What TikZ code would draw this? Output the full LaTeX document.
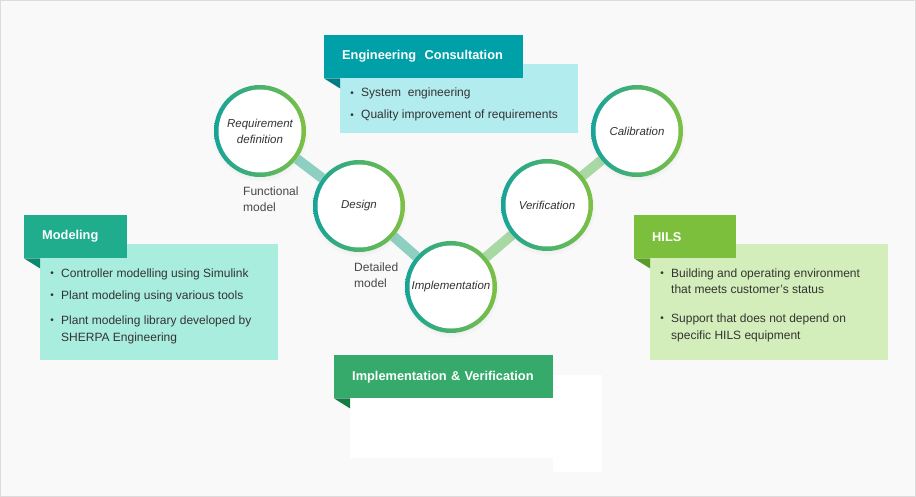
\documentclass[tikz,border=0pt]{standalone}
\usepackage{fontspec}
\setmainfont{Liberation Sans}
\usetikzlibrary{positioning,backgrounds,shadows}
\definecolor{Paper}{HTML}{F9F9F9}
\definecolor{Frame}{HTML}{DCDCDC}
\definecolor{Ink}{HTML}{333333}
\definecolor{RingA}{HTML}{17A398}
\definecolor{RingB}{HTML}{7DC043}
\definecolor{LinkA}{HTML}{8DD0C1}
\definecolor{LinkB}{HTML}{A8D8A4}
\definecolor{HeadEC}{HTML}{00A0A8}
\definecolor{BodyEC}{HTML}{B2ECEF}
\definecolor{FoldEC}{HTML}{007C85}
\definecolor{HeadMod}{HTML}{1FAD8E}
\definecolor{BodyMod}{HTML}{A9EDDE}
\definecolor{FoldMod}{HTML}{0D8870}
\definecolor{HeadHils}{HTML}{7CBF3D}
\definecolor{BodyHils}{HTML}{D3EEBA}
\definecolor{FoldHils}{HTML}{5A9A26}
\definecolor{HeadImp}{HTML}{35AA6B}
\definecolor{FoldImp}{HTML}{167A43}
\newcommand{\bodyfont}{\fontsize{12}{16}\selectfont}
\newcommand{\headfont}{\fontsize{12.8}{16}\selectfont\bfseries}
\newcommand{\stagefont}{\fontsize{11.5}{16}\selectfont\itshape}

\begin{document}
\begin{tikzpicture}[
  x=1pt, y=-1pt,
  stage/.style={circle,minimum size=92pt,inner sep=0pt,align=center,
                font=\stagefont,text=Ink,
                circular drop shadow={shadow xshift=0pt,shadow yshift=-2pt,
                                      shadow scale=1.06,opacity=.10},
                path picture={
                  \shade[left color=RingA,right color=RingB]
                    (path picture bounding box.south west) rectangle
                    (path picture bounding box.north east);
                  \fill[white] (path picture bounding box.center) circle[radius=41.5pt];}},
  link/.style={line width=10pt,draw=#1},
  head/.style={fill=#1,text=white,font=\headfont,anchor=north west,
               minimum height=43pt,inner xsep=18pt,inner ysep=0pt,align=left},
  body/.style={fill=#1,anchor=north west,inner sep=0pt},
  bul/.style={font=\fontsize{10}{10}\selectfont,text=Ink,inner sep=0pt,
              label distance=7pt},
  item/.style={anchor=base west,inner sep=0pt,font=\bodyfont,text=Ink,
               text height=9pt,text depth=3pt,label={[bul]left:\textbullet}},
  cont/.style={anchor=base west,inner sep=0pt,font=\bodyfont,text=Ink},
  note/.style={anchor=west,inner sep=0pt,align=left,font=\bodyfont,text=Ink!90}]

\useasboundingbox (0,0) rectangle (916,497);

% stages of the V
\node[stage] (req) at (260,131) {Requirement\\definition};
\node[stage] (des) at (359,206) {Design};
\node[stage] (imp) at (451,287) {Implementation};
\node[stage] (ver) at (547,205) {Verification};
\node[stage] (cal) at (637,131) {Calibration};

\node[note] (fm) at (243,199) {Functional\\model};
\node[note] (dm) at (354,275) {Detailed\\model};

% Engineering Consultation
\node[body=BodyEC,minimum width=238pt,minimum height=69pt] (ecBody) at (340,64) {};
\node[head=HeadEC,text width=163pt] (ecHead) at (324,35) {\mbox{Engineering~ Consultation}};
\fill[FoldEC] (ecHead.south west) -- ++(16,0) -- ++(0,10) -- cycle;
\node[item] (ec1) at (361,97)  {System~ engineering};
\node[item] (ec2) at (361,119) {Quality improvement of requirements};

% Modeling
\node[body=BodyMod,minimum width=238pt,minimum height=116pt] (modBody) at (40,244) {};
\node[head=HeadMod,text width=67pt] (modHead) at (24,215) {\mbox{Modeling}};
\fill[FoldMod] (modHead.south west) -- ++(16,0) -- ++(0,10) -- cycle;
\node[item] (mod1) at (61,277) {Controller modelling using Simulink};
\node[item] (mod2) at (61,299) {Plant modeling using various tools};
\node[item] (mod3) at (61,324) {Plant modeling library developed by};
\node[cont] (mod3b) at (61,341) {SHERPA Engineering};

% HILS
\node[body=BodyHils,minimum width=238pt,minimum height=116pt] (hilsBody) at (650,244) {};
\node[head=HeadHils,text width=66pt] (hilsHead) at (634,215) {\mbox{HILS}};
\fill[FoldHils] (hilsHead.south west) -- ++(16,0) -- ++(0,10) -- cycle;
\node[item] (hils1) at (671,277) {Building and operating environment};
\node[cont] (hils1b) at (671,294) {that meets customer’s status};
\node[item] (hils2) at (671,322) {Support that does not depend on};
\node[cont] (hils2b) at (671,339) {specific HILS equipment};

% Implementation & Verification
\node[body=white,minimum width=252pt,minimum height=83pt] (ivBody) at (350,375) {};
\node[body=white,minimum width=49pt,minimum height=97pt] (ivTail) at (553,375) {};
\node[head=HeadImp,text width=183pt] (ivHead) at (334,355) {\mbox{Implementation \& Verification}};
\fill[FoldImp] (ivHead.south west) -- ++(16,0) -- ++(0,10) -- cycle;

\begin{scope}[on background layer]
  \fill[Paper] (0,0) rectangle (916,497);
  \draw[Frame] (0.5,0.5) rectangle (915.5,496.5);
  \draw[link=LinkA] (req) -- (des);
  \draw[link=LinkA] (des) -- (imp);
  \draw[link=LinkB] (imp) -- (ver);
  \draw[link=LinkB] (ver) -- (cal);
\end{scope}
\end{tikzpicture}
\end{document}
